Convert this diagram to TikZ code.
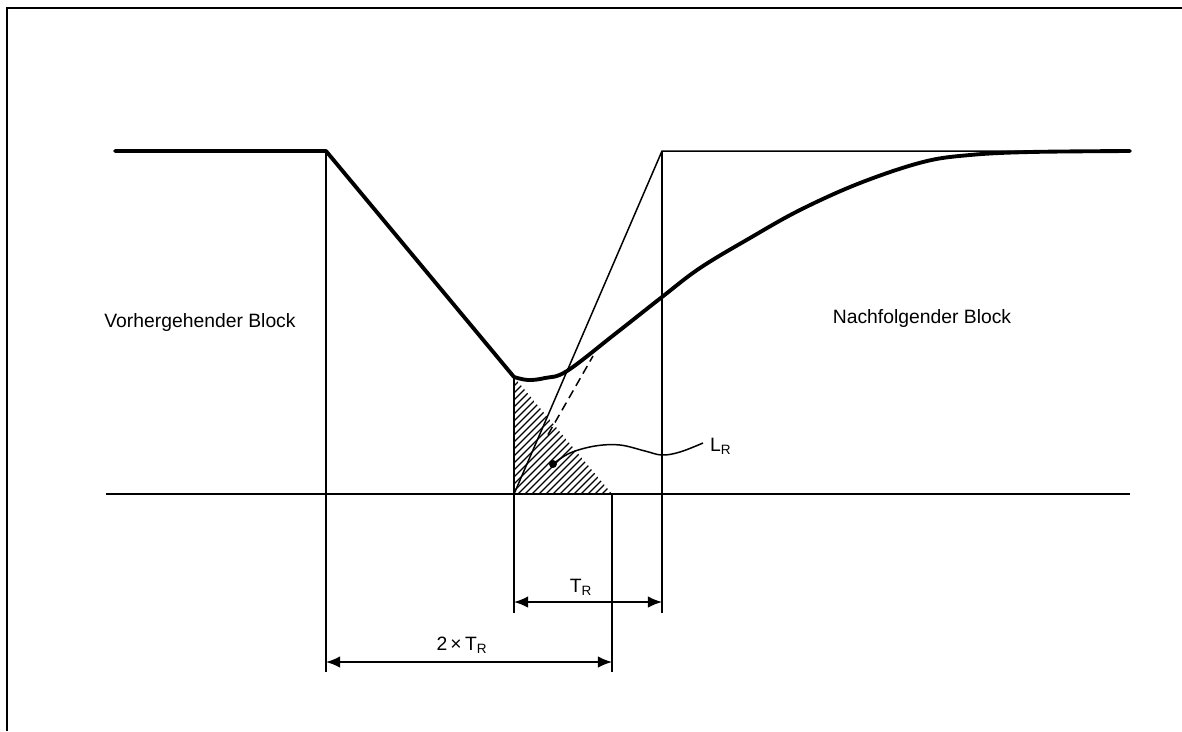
\documentclass[tikz,border=0pt]{standalone}
\usepackage{fontspec}
\setmainfont{Liberation Sans}
\usetikzlibrary{arrows.meta, calc}

\begin{document}
\begin{tikzpicture}[
      x=0.02cm, y=-0.02cm,
      font=\fontsize{11}{13}\selectfont,
      thk/.style={line width=2.2pt, line join=round, line cap=round},
      thn/.style={line width=0.85pt},
      hat/.style={line width=0.65pt},
      dsh/.style={line width=0.85pt, dash pattern=on 5pt off 3pt},
      dimln/.style={line width=0.85pt,
                    {Latex[length=8pt,width=6.5pt]}-{Latex[length=8pt,width=6.5pt]}},
      lbl/.style={inner sep=1pt},
    ]
    \useasboundingbox (0,0) rectangle (1182,731);
    % frame of the scan
    \draw[line width=1.1pt] (7,731) -- (7,8) -- (1182,8);

    % key points
    \coordinate (topL)  at (115,151);
    \coordinate (dropA) at (326,151);
    \coordinate (knee)  at (514,377);
    \coordinate (orig)  at (514,494);
    \coordinate (base2) at (612,494);
    \coordinate (riseT) at (662,151);
    \coordinate (topR)  at (1130,151);
    \coordinate (baseL) at (106,494);
    \coordinate (baseR) at (1130,494);
    \coordinate (tang)  at (593,356);

    % hatched area L_R
    \begin{scope}
      \clip (knee) -- (orig) -- (base2) -- cycle;
      \foreach \c in {893,900,...,1106}
        \draw[hat] ({\c-494},494) -- ({\c-377},377);
    \end{scope}

    % base line and levels
    \draw[thn] (baseL) -- (baseR);
    \draw[thk] (topL) -- (dropA) -- (knee);
    \draw[thk] plot[smooth, tension=0.6] coordinates {
      (514,377) (528,380) (545,378) (567,371) (615,334) (662,297)
      (700,268) (750,238) (800,210) (860,183) (923,162) (970,155)
      (1030,152) (1130,151)};
    \draw[thn] (orig) -- (riseT) -- (topR);
    \draw[dsh] ($(orig)!0.43!(tang)$) -- (tang);

    % vertical guides
    \coordinate (v1b) at (326,672);
    \coordinate (v2b) at (514,613);
    \coordinate (v3b) at (612,672);
    \coordinate (v4b) at (662,613);
    \draw[thn] (dropA) -- (v1b);
    \draw[thn] (knee) -- (v2b);
    \draw[thn] (base2) -- (v3b);
    \draw[thn] (riseT) -- (v4b);

    % dimensions
    \coordinate (d1a) at (514,602);
    \coordinate (d1b) at (662,602);
    \coordinate (d2a) at (326,662);
    \coordinate (d2b) at (612,662);
    \draw[dimln] (d1a) -- (d1b);
    \draw[dimln] (d2a) -- (d2b);
    \node[lbl] (tR) at (581,587) {T\textsubscript{R}};
    \node[lbl] (tR2) at (462,645) {2\,×\,T\textsubscript{R}};

    % leader for L_R
    \node[circle, fill, inner sep=0pt, minimum size=1.6mm] (dotL) at (553,464) {};
    \node[lbl, anchor=west] (lR) at (708,446) {L\textsubscript{R}};
    \draw[thn] plot[smooth, tension=0.6] coordinates {
      (553,464) (570,453) (595,446) (620,445) (645,451) (662,455) (680,452) (703,443)};

    % block labels
    \node (prev) at (200,322) {Vorhergehender Block};
    \node (next) at (922,318) {Nachfolgender Block};
    \end{tikzpicture}
\end{document}
